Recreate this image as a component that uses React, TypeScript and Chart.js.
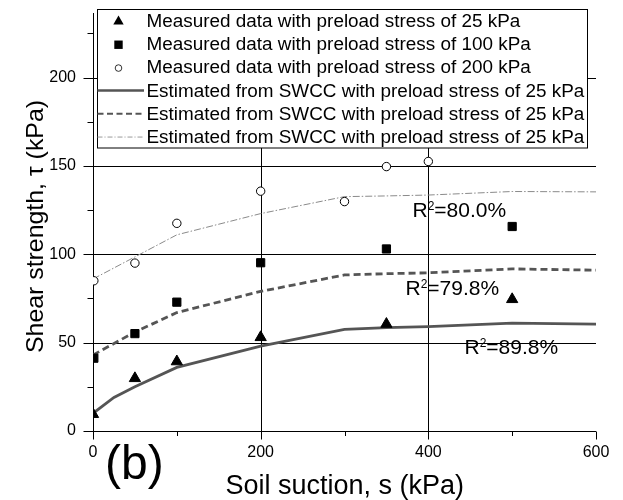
import React, { useEffect, useRef } from 'react';
import { Chart, registerables } from 'chart.js';

Chart.register(...registerables);

// ---------- data ----------
const suction25 = [0, 50, 100, 200, 350, 500];
const measured25 = [9.5, 29.8, 39.3, 53, 60.5, 74.5];
const suction100 = [1, 50, 100, 200, 350, 500];
const measured100 = [41.2, 55.1, 72.9, 95.2, 103, 115.7];
const suction200 = [1, 50, 100, 200, 300, 350, 400];
const measured200 = [85, 95, 117.5, 135.7, 129.8, 149.6, 152.5];

const estSuction25 = [0, 25, 50, 100, 200, 300, 350, 400, 500, 600];
const estimated25 = [10, 19, 25, 36, 48, 57.5, 58.5, 59, 61, 60.5];
const estSuction100 = [0, 50, 100, 200, 300, 350, 400, 500, 600];
const estimated100 = [43, 56, 67, 79, 88.3, 89, 89.5, 91.7, 91];
const estSuction200 = [0, 50, 100, 200, 300, 350, 400, 500, 600];
const estimated200 = [86, 98.5, 111, 123, 132.6, 133, 133.5, 135.5, 135.3];

const legendLabels = [
  'Measured data with preload stress of 25 kPa',
  'Measured data with preload stress of 100 kPa',
  'Measured data with preload stress of 200 kPa',
  'Estimated from SWCC with preload stress of 25 kPa',
  'Estimated from SWCC with preload stress of 25 kPa',
  'Estimated from SWCC with preload stress of 25 kPa',
];
const r2Labels = ['80.0%', '79.8%', '89.8%'];
const xTitle = 'Soil suction, s (kPa)';
const yTitle = 'Shear strength, \u03c4 (kPa)';
const panelLabel = '(b)';

const FONT = "'Liberation Sans', Arial, Helvetica, sans-serif";

const pts = (xs: number[], ys: number[]) => xs.map((x, i) => ({ x, y: ys[i] }));

function triPath(ctx: CanvasRenderingContext2D, cx: number, cy: number, r: number) {
  ctx.beginPath();
  ctx.moveTo(cx, cy - r);
  ctx.lineTo(cx + r * 0.866, cy + r / 2);
  ctx.lineTo(cx - r * 0.866, cy + r / 2);
  ctx.closePath();
}

const decor = {
  id: 'decor',
  beforeDatasetsDraw(chart: any) {
    const { ctx, scales } = chart;
    const x = scales.x;
    const y = scales.y;
    const L = x.getPixelForValue(0);
    const R = x.getPixelForValue(600);
    const B = y.getPixelForValue(0);
    const T = y.top;
    ctx.save();
    ctx.strokeStyle = '#000';
    ctx.lineWidth = 1;
    const line = (x1: number, y1: number, x2: number, y2: number) => {
      ctx.beginPath();
      ctx.moveTo(x1, y1);
      ctx.lineTo(x2, y2);
      ctx.stroke();
    };
    // horizontal grid
    y.ticks.forEach((t: any) => {
      if (t.value > 0 && t.value % 50 === 0) {
        const py = Math.round(y.getPixelForValue(t.value)) + 0.5;
        line(L, py, R, py);
      }
    });
    // vertical grid
    x.ticks.forEach((t: any) => {
      if (t.value > 0 && t.value < 600 && t.value % 200 === 0) {
        const px = Math.round(x.getPixelForValue(t.value)) + 0.5;
        line(px, T, px, B);
      }
    });
    // axes
    const ax = Math.round(L) + 0.5;
    const ay = Math.round(B) + 0.5;
    line(ax, T, ax, ay);
    line(L, ay, R, ay);
    // y ticks
    y.ticks.forEach((t: any) => {
      const py = Math.round(y.getPixelForValue(t.value)) + 0.5;
      const len = t.value % 50 === 0 ? 10 : 6;
      line(ax - len, py, ax, py);
    });
    // x ticks
    x.ticks.forEach((t: any) => {
      const px = Math.round(x.getPixelForValue(t.value)) + 0.5;
      const len = t.value % 200 === 0 ? 8 : 4.5;
      line(px, ay, px, ay + len);
    });
    ctx.restore();
  },
  afterDatasetsDraw(chart: any) {
    const { ctx } = chart;
    ctx.save();
    // R2 labels
    const r2Pos = [
      [412.5, 216.7],
      [405.5, 295],
      [464.5, 354],
    ];
    r2Labels.forEach((lab, i) => {
      let [px, py] = r2Pos[i];
      ctx.fillStyle = '#000';
      ctx.textAlign = 'left';
      ctx.textBaseline = 'alphabetic';
      ctx.font = `21px ${FONT}`;
      ctx.fillText('R', px, py);
      px += ctx.measureText('R').width;
      ctx.font = `12px ${FONT}`;
      ctx.fillText('2', px, py - 6.7);
      px += ctx.measureText('2').width;
      ctx.font = `21px ${FONT}`;
      ctx.fillText('=' + lab, px, py);
    });

    // legend
    const bx = 97.5, by = 9.5, bw = 490, bh = 138.5;
    ctx.fillStyle = '#fff';
    ctx.fillRect(bx, by, bw, bh);
    ctx.strokeStyle = '#000';
    ctx.lineWidth = 1;
    ctx.strokeRect(bx, by, bw, bh);
    const step = 23.33;
    const base0 = 26.7;
    const mx = 118.5;
    ctx.font = `18.9px ${FONT}`;
    ctx.textAlign = 'left';
    ctx.textBaseline = 'alphabetic';
    legendLabels.forEach((lab, i) => {
      const base = base0 + step * i;
      const cy = base - 6.3;
      ctx.fillStyle = '#000';
      ctx.fillText(lab, 146.5, base);
      if (i === 0) {
        triPath(ctx, mx, cy + 1, 6);
        ctx.fill();
      } else if (i === 1) {
        ctx.fillRect(mx - 4.2, cy + 1 - 4.2, 8.4, 8.4);
      } else if (i === 2) {
        ctx.beginPath();
        ctx.arc(mx, cy + 1, 3.3, 0, Math.PI * 2);
        ctx.fillStyle = '#fff';
        ctx.fill();
        ctx.strokeStyle = '#000';
        ctx.lineWidth = 0.8;
        ctx.stroke();
      } else {
        ctx.beginPath();
        ctx.moveTo(bx, cy);
        ctx.lineTo(144, cy);
        if (i === 3) {
          ctx.strokeStyle = '#555';
          ctx.lineWidth = 2.5;
          ctx.setLineDash([]);
        } else if (i === 4) {
          ctx.strokeStyle = '#555';
          ctx.lineWidth = 2;
          ctx.setLineDash([6, 3.5]);
        } else {
          ctx.strokeStyle = '#999';
          ctx.lineWidth = 1;
          ctx.setLineDash([5, 2, 1, 2]);
        }
        ctx.stroke();
        ctx.setLineDash([]);
      }
    });
    ctx.restore();
  },
  afterDraw(chart: any) {
    const { ctx } = chart;
    ctx.save();
    ctx.fillStyle = '#000';
    // x title
    ctx.font = `27px ${FONT}`;
    ctx.textAlign = 'center';
    ctx.textBaseline = 'alphabetic';
    ctx.fillText(xTitle, 344.7, 494);
    // panel label
    ctx.font = `48px ${FONT}`;
    ctx.textAlign = 'left';
    ctx.fillText(panelLabel, 105, 479);
    // y title
    ctx.translate(36, 226.5);
    ctx.rotate(-Math.PI / 2);
    ctx.font = `24px ${FONT}`;
    ctx.textAlign = 'center';
    ctx.textBaseline = 'middle';
    const w = ctx.measureText(yTitle).width;
    ctx.scale(253 / w, 1);
    ctx.fillText(yTitle, 0, 0);
    ctx.restore();
  },
};

export default function App() {
  const ref = useRef<HTMLCanvasElement>(null);
  useEffect(() => {
    Chart.defaults.font.family = FONT;
    const chart = new Chart(ref.current as HTMLCanvasElement, {
      type: 'scatter',
      data: {
        datasets: [
          {
            label: legendLabels[0],
            data: pts(suction25, measured25),
            pointStyle: 'triangle',
            pointRadius: 6.5,
            backgroundColor: '#000',
            borderColor: '#000',
            borderWidth: 1,
            showLine: false,
            clip: 0,
          },
          {
            label: legendLabels[1],
            data: pts(suction100, measured100),
            pointStyle: 'rect',
            pointRadius: 5.8,
            backgroundColor: '#000',
            borderColor: '#000',
            borderWidth: 1,
            showLine: false,
            clip: 0,
          },
          {
            label: legendLabels[2],
            data: pts(suction200, measured200),
            pointStyle: 'circle',
            pointRadius: 4.2,
            backgroundColor: '#fff',
            borderColor: '#000',
            borderWidth: 1,
            showLine: false,
            clip: 0,
          },
          {
            label: legendLabels[3],
            data: pts(estSuction25, estimated25),
            showLine: true,
            pointRadius: 0,
            borderColor: '#555',
            borderWidth: 2.8,
            tension: 0,
            clip: 0,
          },
          {
            label: legendLabels[4],
            data: pts(estSuction100, estimated100),
            showLine: true,
            pointRadius: 0,
            borderColor: '#555',
            borderWidth: 2.8,
            borderDash: [7, 4],
            tension: 0,
            clip: 0,
          },
          {
            label: legendLabels[5],
            data: pts(estSuction200, estimated200),
            showLine: true,
            pointRadius: 0,
            borderColor: '#8a8a8a',
            borderWidth: 1,
            borderDash: [7, 2, 1.5, 2],
            tension: 0,
            clip: 0,
          },
        ],
      },
      options: {
        responsive: false,
        animation: false,
        events: [],
        layout: { padding: { top: 13, right: 27, left: 0, bottom: 0 } },
        plugins: { legend: { display: false }, tooltip: { enabled: false } },
        scales: {
          x: {
            type: 'linear',
            min: 0,
            max: 600,
            grid: { display: false, drawTicks: false },
            border: { display: false },
            ticks: {
              stepSize: 100,
              autoSkip: false,
              maxRotation: 0,
              padding: 12,
              color: '#000',
              font: { size: 16, family: FONT },
              callback: (v: any) => (Number(v) % 200 === 0 ? String(v) : ''),
            },
            afterFit: (s: any) => {
              s.height = 69;
              s.paddingLeft = 0;
              s.paddingRight = 0;
            },
          },
          y: {
            type: 'linear',
            min: 0,
            max: 236.5,
            grid: { display: false, drawTicks: false },
            border: { display: false },
            ticks: {
              stepSize: 25,
              includeBounds: false,
              autoSkip: false,
              padding: 17,
              color: '#000',
              font: { size: 16, family: FONT },
              callback: (v: any) => (Number(v) % 50 === 0 ? String(v) : ''),
            },
            afterFit: (s: any) => {
              s.width = 93;
              s.paddingTop = 0;
              s.paddingBottom = 0;
            },
          },
        },
      },
      plugins: [decor],
    } as any);
    return () => chart.destroy();
  }, []);
  return (
    <div style={{ position: 'fixed', left: 0, top: 0, width: 623, height: 500, background: '#fff' }}>
      <canvas ref={ref} width={623} height={500} style={{ display: 'block' }} />
    </div>
  );
}
